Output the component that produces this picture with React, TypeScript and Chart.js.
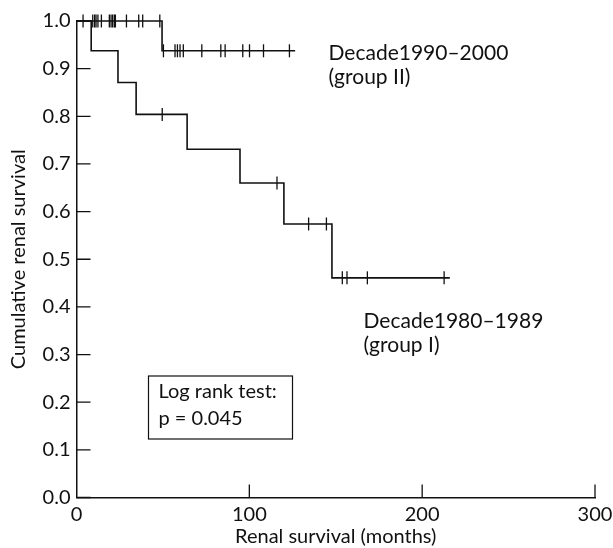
import React, { useEffect, useRef } from 'react';
import { Chart, registerables } from 'chart.js';

Chart.register(...registerables);

// ---- data ----
const xTickValues = [0, 100, 200, 300];
const yTickValues = [0, 0.1, 0.2, 0.3, 0.4, 0.5, 0.6, 0.7, 0.8, 0.9, 1.0];

// Group I (Decade 1980–1989): step curve (event times, survival after event)
const group1Times = [0, 8.5, 24, 34.5, 64, 94.6, 120, 147.8, 216];
const group1Surv = [1.0, 0.9375, 0.871, 0.804, 0.731, 0.66, 0.574, 0.461, 0.461];
const group1Censored = [49.6, 116, 134.3, 144.6, 153.8, 156.5, 168.3, 212.7];

// Group II (Decade 1990–2000)
const group2Times = [0, 49.5, 126.5];
const group2Surv = [1.0, 0.9375, 0.9375];
const group2Censored = [
  3.8, 9.4, 10.5, 11.3, 12.4, 14.4, 19.0, 20.0, 20.9, 21.9, 22.5, 28.9, 36.0, 38.3, 48.2,
  50.3, 57.0, 58.4, 59.9, 61.8, 72.5, 83.5, 86.0, 96.2, 100.1, 108.2, 123.2,
];

const group2Label = ['Decade1990\u20132000', '(group II)'];
const group1Label = ['Decade1980\u20131989', '(group I)'];
const testLabel = ['Log rank test:', 'p = 0.045'];

const xTitle = 'Renal survival (months)';
const yTitle = 'Cumulative renal survival';

const FONT = 'Lato';
const INK = '#111111';

function survAt(times: number[], surv: number[], t: number): number {
  let s = surv[0];
  for (let i = 0; i < times.length; i++) {
    if (times[i] <= t) s = surv[i];
  }
  return s;
}

const annotations = {
  id: 'kmAnnotations',
  afterDraw(chart: any) {
    const ctx = chart.ctx;
    const xs = chart.scales.x;
    const ys = chart.scales.y;
    const area = chart.chartArea;
    ctx.save();
    // inward tick marks
    ctx.strokeStyle = INK;
    ctx.lineWidth = 1.3;
    ctx.beginPath();
    xTickValues.forEach((v) => {
      if (v === 0) return;
      const px = xs.getPixelForValue(v);
      ctx.moveTo(px, area.bottom);
      ctx.lineTo(px, area.bottom - 13);
    });
    yTickValues.forEach((v) => {
      const py = ys.getPixelForValue(v);
      ctx.moveTo(area.left, py);
      ctx.lineTo(area.left + 14, py);
    });
    ctx.stroke();

    ctx.fillStyle = INK;
    ctx.font = `21px ${FONT}`;
    ctx.textAlign = 'left';
    ctx.textBaseline = 'alphabetic';
    // group II label
    const g2x = area.left + 252;
    const g2y = area.top + 39;
    ctx.fillText(group2Label[0], g2x, g2y);
    ctx.fillText(group2Label[1], g2x, g2y + 24);
    // group I label
    const g1x = area.left + 287;
    const g1y = area.top + 307;
    ctx.fillText(group1Label[0], g1x, g1y);
    ctx.fillText(group1Label[1], g1x, g1y + 24);
    // log rank box
    ctx.font = `20px ${FONT}`;
    const bx = area.left + 72;
    const by = area.top + 355;
    const bw = 144;
    const bh = 63;
    ctx.lineWidth = 1.2;
    ctx.strokeRect(bx, by, bw, bh);
    ctx.fillText(testLabel[0], bx + 10, by + 22);
    ctx.fillText(testLabel[1], bx + 10, by + 49);
    ctx.restore();
  },
};

export default function App() {
  const ref = useRef<HTMLCanvasElement>(null);

  useEffect(() => {
    document.body.style.margin = '0';
    const canvas = ref.current;
    if (!canvas) return;

    const curve = (times: number[], surv: number[]) =>
      times.map((t, i) => ({ x: t, y: surv[i] }));
    const censor = (pts: number[], times: number[], surv: number[]) =>
      pts.map((t) => ({ x: t, y: survAt(times, surv, t) }));

    const lineDs = (data: any) => ({
      data,
      showLine: true,
      stepped: 'before' as const,
      borderColor: INK,
      borderWidth: 1.6,
      pointRadius: 0,
      fill: false,
      clip: false as const,
    });
    const censorDs = (data: any) => ({
      data,
      showLine: false,
      pointStyle: 'line' as const,
      pointRotation: 90,
      pointRadius: 6.5,
      pointBorderColor: INK,
      pointBorderWidth: 1.3,
      pointBackgroundColor: INK,
      clip: false as const,
    });

    const chart = new Chart(canvas, {
      type: 'scatter',
      data: {
        datasets: [
          lineDs(curve(group1Times, group1Surv)),
          lineDs(curve(group2Times, group2Surv)),
          censorDs(censor(group1Censored, group1Times, group1Surv)),
          censorDs(censor(group2Censored, group2Times, group2Surv)),
        ],
      },
      options: {
        responsive: false,
        animation: false,
        devicePixelRatio: 1,
        layout: { autoPadding: false, padding: { top: 21, right: 18, left: 0, bottom: 0 } },
        plugins: {
          legend: { display: false },
          tooltip: { enabled: false },
        },
        scales: {
          x: {
            type: 'linear',
            min: 0,
            max: 300,
            afterBuildTicks: (s: any) => {
              s.ticks = xTickValues.map((v) => ({ value: v }));
            },
            afterFit: (s: any) => {
              s.height = 50.5;
              s.paddingLeft = 0;
              s.paddingRight = 0;
            },
            ticks: {
              padding: 7,
              color: INK,
              maxRotation: 0,
              font: { family: FONT, size: 20, lineHeight: 1 },
              callback: (v: any) => String(v),
            },
            grid: { display: false, drawTicks: false },
            border: { display: true, color: INK, width: 1.5 },
            title: {
              display: true,
              text: xTitle,
              color: INK,
              font: { family: FONT, size: 20, lineHeight: 1 },
              padding: { top: 0, bottom: 1 },
            },
          },
          y: {
            type: 'linear',
            min: 0,
            max: 1,
            afterBuildTicks: (s: any) => {
              s.ticks = yTickValues.map((v) => ({ value: v }));
            },
            afterFit: (s: any) => {
              s.width = 76.5;
              s.paddingTop = 0;
              s.paddingBottom = 0;
            },
            ticks: {
              padding: 6,
              color: INK,
              font: { family: FONT, size: 20, lineHeight: 1 },
              callback: (v: any) => Number(v).toFixed(1),
            },
            grid: { display: false, drawTicks: false },
            border: { display: true, color: INK, width: 1.5 },
            title: {
              display: true,
              text: yTitle,
              color: INK,
              font: { family: FONT, size: 20, lineHeight: 1 },
              padding: { top: 9, bottom: 0 },
            },
          },
        },
      },
      plugins: [annotations],
    });

    return () => chart.destroy();
  }, []);

  return (
    <div style={{ position: 'fixed', left: 0, top: 0, width: 613, height: 548, background: '#fff' }}>
      <canvas ref={ref} width={613} height={548} style={{ display: 'block' }} />
    </div>
  );
}
